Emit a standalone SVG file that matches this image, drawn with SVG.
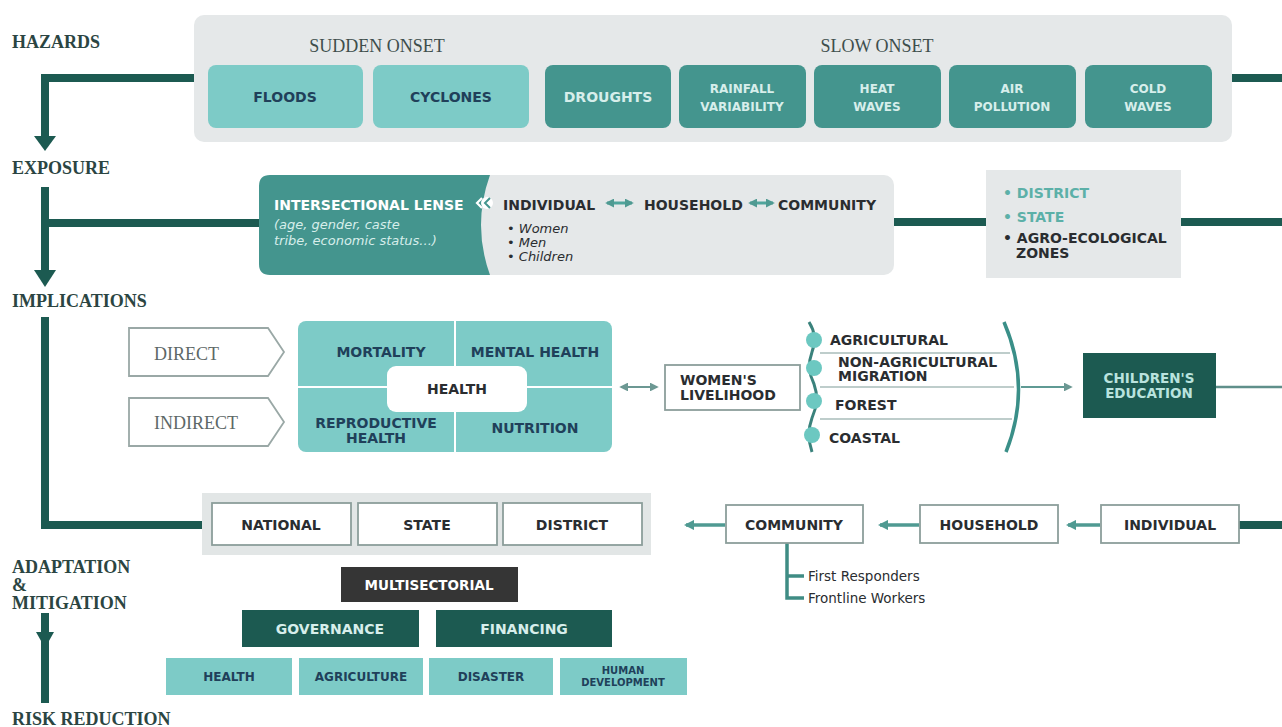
<svg xmlns="http://www.w3.org/2000/svg" width="1282" height="727" viewBox="0 0 1282 727">
<defs>
<style>
.lbl{font-family:"Liberation Serif",serif;font-weight:bold;font-size:18px;fill:#2b4542}
.sub{font-family:"Liberation Serif",serif;font-size:18px;fill:#3e4e4c}
.pent{font-family:"Liberation Serif",serif;font-size:18px;fill:#5d6867}
.t{font-family:"DejaVu Sans","Liberation Sans",sans-serif;font-weight:bold;font-size:14px}
.s{font-family:"DejaVu Sans","Liberation Sans",sans-serif;font-weight:bold;font-size:12px}
.it{font-family:"DejaVu Sans","Liberation Sans",sans-serif;font-style:italic;font-size:13px}
.c{text-anchor:middle}
.dk{fill:#20405a}
.bk{fill:#2a2d30}
.lt{fill:#d7eeeb}
.wh{fill:#ffffff}
.main{fill:none;stroke:#1c5a51;stroke-width:8}
.thin{fill:none;stroke:#4f9a92;stroke-width:3.5}
.light{fill:#7dcbc7}
.mid{fill:#44958e}
.dark{fill:#1c5a51}
.gray{fill:#e5e8e9}
.box{fill:#ffffff;stroke:#8c9e9b;stroke-width:1.8}
</style>
<marker id="ah" viewBox="0 0 10 10" refX="8" refY="5" markerWidth="3" markerHeight="3" orient="auto-start-reverse">
<path d="M0,0 L10,5 L0,10 z" fill="#4f9a92"/>
</marker>
<marker id="ahg" viewBox="0 0 10 10" refX="8" refY="5" markerWidth="4" markerHeight="4" orient="auto-start-reverse">
<path d="M0,0 L10,5 L0,10 z" fill="#6c9893"/>
</marker>
</defs>
<rect width="1282" height="727" fill="#ffffff"/>

<!-- stage labels -->
<g id="stage-labels">
<text class="lbl" x="12" y="48">HAZARDS</text>
<text class="lbl" x="12" y="174">EXPOSURE</text>
<text class="lbl" x="12" y="307">IMPLICATIONS</text>
<text class="lbl" x="12" y="573">ADAPTATION</text>
<text class="lbl" x="12" y="591">&amp;</text>
<text class="lbl" x="12" y="609">MITIGATION</text>
<text class="lbl" x="12" y="725">RISK REDUCTION</text>
</g>

<!-- connectors -->
<g id="connectors">
<path class="main" d="M194,78 H45 V138"/>
<polygon points="34,136 56,136 45,151" fill="#1c5a51"/>
<path class="main" d="M45,187 V272 M45,223 H259"/>
<polygon points="34,270 56,270 45,287" fill="#1c5a51"/>
<path class="main" d="M45,317 V525 H202"/>
<path class="main" d="M45,613 V703"/>
<polygon points="36,632 54,632 45,648" fill="#1c5a51"/>
<path class="main" d="M1232,78 H1282"/>
<path class="main" d="M894,222 H986"/>
<path class="main" d="M1181,222 H1282"/>
<path class="main" d="M1239,525 H1282"/>
<path d="M621,387 H657" fill="none" stroke="#6c9893" stroke-width="2.2" marker-start="url(#ahg)" marker-end="url(#ahg)"/>
<path d="M1021,387 H1071" fill="none" stroke="#5f9a94" stroke-width="2.2" marker-end="url(#ahg)"/>
<path d="M1216,387 H1282" fill="none" stroke="#5f8f8a" stroke-width="2.5"/>
<path class="thin" d="M725,525 H686" marker-end="url(#ah)"/>
<path class="thin" d="M919,525 H880" marker-end="url(#ah)"/>
<path class="thin" d="M1100,525 H1068" marker-end="url(#ah)"/>
<path d="M787,543 V598 H804 M787,576 H804" fill="none" stroke="#3f8c84" stroke-width="3.5"/>
</g>

<!-- hazards -->
<g id="hazards">
<rect class="gray" x="194" y="15" width="1038" height="127" rx="10"/>
<text class="sub c" x="377" y="52">SUDDEN ONSET</text>
<text class="sub c" x="877" y="52">SLOW ONSET</text>
</g>
<g id="floods"><rect class="light" x="208" y="65" width="155" height="63" rx="8"/><text class="t c dk" x="285" y="102">FLOODS</text></g>
<g id="cyclones"><rect class="light" x="373" y="65" width="156" height="63" rx="8"/><text class="t c dk" x="451" y="102">CYCLONES</text></g>
<g id="droughts"><rect class="mid" x="545" y="65" width="126" height="63" rx="8"/><text class="t c lt" x="608" y="102">DROUGHTS</text></g>
<g id="rainfall"><rect class="mid" x="679" y="65" width="127" height="63" rx="8"/><text class="s c lt" x="742" y="93">RAINFALL</text><text class="s c lt" x="742" y="111">VARIABILITY</text></g>
<g id="heat-waves"><rect class="mid" x="814" y="65" width="127" height="63" rx="8"/><text class="s c lt" x="877" y="93">HEAT</text><text class="s c lt" x="877" y="111">WAVES</text></g>
<g id="air-pollution"><rect class="mid" x="949" y="65" width="127" height="63" rx="8"/><text class="s c lt" x="1012" y="93">AIR</text><text class="s c lt" x="1012" y="111">POLLUTION</text></g>
<g id="cold-waves"><rect class="mid" x="1085" y="65" width="127" height="63" rx="8"/><text class="s c lt" x="1148" y="93">COLD</text><text class="s c lt" x="1148" y="111">WAVES</text></g>

<!-- exposure -->
<g id="exposure-panel">
<rect class="gray" x="470" y="175" width="424" height="100" rx="10"/>
<text class="t bk" x="503" y="210">INDIVIDUAL</text>
<path d="M607,203 H632" fill="none" stroke="#4fa59c" stroke-width="3" marker-start="url(#ah)" marker-end="url(#ah)"/>
<text class="t bk" x="644" y="210">HOUSEHOLD</text>
<path d="M750,203 H773" fill="none" stroke="#4fa59c" stroke-width="3" marker-start="url(#ah)" marker-end="url(#ah)"/>
<text class="t bk" x="778" y="210">COMMUNITY</text>
<text class="it bk" x="507" y="233">• Women</text>
<text class="it bk" x="507" y="247">• Men</text>
<text class="it bk" x="507" y="261">• Children</text>
</g>
<g id="intersectional-lense">
<path class="mid" d="M270,175 H490 Q472,225 490,275 H270 Q259,275 259,264 V186 Q259,175 270,175 Z"/>
<text class="t wh" x="274" y="210">INTERSECTIONAL LENSE</text>
<text class="it lt" x="274" y="229" font-size="14">(age, gender, caste</text>
<text class="it lt" x="274" y="245" font-size="14">tribe, economic status...)</text>
<circle cx="487" cy="203" r="6" fill="#ffffff"/>
<path d="M490,198 L485,203 L490,208" fill="none" stroke="#44958e" stroke-width="2"/>
<path d="M482,198 L477,203 L482,208" fill="none" stroke="#ffffff" stroke-width="2.2"/>
</g>
<g id="levels">
<rect class="gray" x="986" y="170" width="195" height="108"/>
<text class="t" x="1003" y="198" fill="#5cb0a8">• DISTRICT</text>
<text class="t" x="1003" y="222" fill="#5cb0a8">• STATE</text>
<text class="t bk" x="1003" y="243">• AGRO-ECOLOGICAL</text>
<text class="t bk" x="1016" y="258">ZONES</text>
</g>

<!-- implications -->
<g id="direct">
<polygon points="129,328 268,328 284,352 268,376 129,376" fill="#ffffff" stroke="#9aa8a6" stroke-width="1.8"/>
<text class="pent" x="154" y="360">DIRECT</text>
</g>
<g id="indirect">
<polygon points="129,398 268,398 284,422 268,446 129,446" fill="#ffffff" stroke="#9aa8a6" stroke-width="1.8"/>
<text class="pent" x="154" y="429">INDIRECT</text>
</g>
<g id="health-grid">
<rect class="light" x="298" y="321" width="314" height="131" rx="8"/>
<path d="M455,321 V452 M298,387 H612" stroke="#ffffff" stroke-width="2"/>
<text class="t c dk" x="381" y="357">MORTALITY</text>
<text class="t c dk" x="535" y="357">MENTAL HEALTH</text>
<text class="t c dk" x="376" y="428">REPRODUCTIVE</text>
<text class="t c dk" x="376" y="443">HEALTH</text>
<text class="t c dk" x="535" y="433">NUTRITION</text>
</g>
<g id="health">
<rect x="387" y="366" width="140" height="46" rx="9" fill="#ffffff"/>
<text class="t c bk" x="457" y="394">HEALTH</text>
</g>
<g id="womens-livelihood">
<rect class="box" x="665" y="365" width="135" height="45"/>
<text class="t bk" x="680" y="385">WOMEN'S</text>
<text class="t bk" x="680" y="400">LIVELIHOOD</text>
</g>
<g id="livelihood-types">
<path d="M820,353 H1010 M820,387 H1014 M820,419 H1012" fill="none" stroke="#a9bdba" stroke-width="1.6"/>
<path d="M809,322 Q818,336 812,352 Q806,368 814,384 Q820,400 812,418 Q806,434 812,452" fill="none" stroke="#3a827c" stroke-width="3"/>
<circle cx="814" cy="340" r="8" fill="#6cc8c1"/>
<circle cx="814" cy="368" r="8" fill="#6cc8c1"/>
<circle cx="814" cy="401" r="8" fill="#6cc8c1"/>
<circle cx="812" cy="435" r="8" fill="#6cc8c1"/>
<path d="M1004,322 Q1032,387 1006,452" fill="none" stroke="#3a8f88" stroke-width="3.5"/>
<text class="t bk" x="830" y="345">AGRICULTURAL</text>
<text class="t bk" x="838" y="367">NON-AGRICULTURAL</text>
<text class="t bk" x="838" y="381">MIGRATION</text>
<text class="t bk" x="835" y="410">FOREST</text>
<text class="t bk" x="829" y="443">COASTAL</text>
</g>
<g id="childrens-education">
<rect class="dark" x="1083" y="353" width="133" height="65"/>
<text class="c" x="1149" y="383" fill="#b9e3de" font-family="DejaVu Sans, sans-serif" font-weight="bold" font-size="13.5">CHILDREN'S</text>
<text class="c" x="1149" y="398" fill="#b9e3de" font-family="DejaVu Sans, sans-serif" font-weight="bold" font-size="13.5">EDUCATION</text>
</g>

<!-- adaptation -->
<g id="governance-levels">
<rect x="202" y="493" width="449" height="62" fill="#e2e6e6"/>
<rect class="box" x="212" y="503" width="139" height="42"/>
<text class="t c bk" x="281" y="530">NATIONAL</text>
<rect class="box" x="358" y="503" width="139" height="42"/>
<text class="t c bk" x="427" y="530">STATE</text>
<rect class="box" x="503" y="503" width="139" height="42"/>
<text class="t c bk" x="572" y="530">DISTRICT</text>
</g>
<g id="community"><rect class="box" x="726" y="505" width="137" height="38"/><text class="t c bk" x="794" y="530">COMMUNITY</text></g>
<g id="household"><rect class="box" x="920" y="505" width="138" height="38"/><text class="t c bk" x="989" y="530">HOUSEHOLD</text></g>
<g id="individual"><rect class="box" x="1101" y="505" width="138" height="38"/><text class="t c bk" x="1170" y="530">INDIVIDUAL</text></g>
<g id="community-actors">
<text x="808" y="581" font-family="DejaVu Sans, sans-serif" font-size="13.5" fill="#2a2d30">First Responders</text>
<text x="808" y="603" font-family="DejaVu Sans, sans-serif" font-size="13.5" fill="#2a2d30">Frontline Workers</text>
</g>
<g id="multisectorial"><rect x="341" y="567" width="177" height="35" fill="#353535"/><text class="c wh" x="429" y="590" font-family="DejaVu Sans, sans-serif" font-weight="bold" font-size="13.5">MULTISECTORIAL</text></g>
<g id="governance"><rect class="dark" x="242" y="610" width="177" height="37"/><text class="t c lt" x="330" y="634">GOVERNANCE</text></g>
<g id="financing"><rect class="dark" x="436" y="610" width="176" height="37"/><text class="t c lt" x="524" y="634">FINANCING</text></g>
<g id="sector-health"><rect class="light" x="166" y="658" width="126" height="37"/><text class="s c dk" x="229" y="681">HEALTH</text></g>
<g id="sector-agriculture"><rect class="light" x="299" y="658" width="124" height="37"/><text class="s c dk" x="361" y="681">AGRICULTURE</text></g>
<g id="sector-disaster"><rect class="light" x="429" y="658" width="124" height="37"/><text class="s c dk" x="491" y="681">DISASTER</text></g>
<g id="sector-human-development"><rect class="light" x="560" y="658" width="127" height="37"/><text class="c dk" x="623" y="674" font-family="DejaVu Sans, sans-serif" font-weight="bold" font-size="10">HUMAN</text><text class="c dk" x="623" y="686" font-family="DejaVu Sans, sans-serif" font-weight="bold" font-size="10">DEVELOPMENT</text></g>
</svg>
